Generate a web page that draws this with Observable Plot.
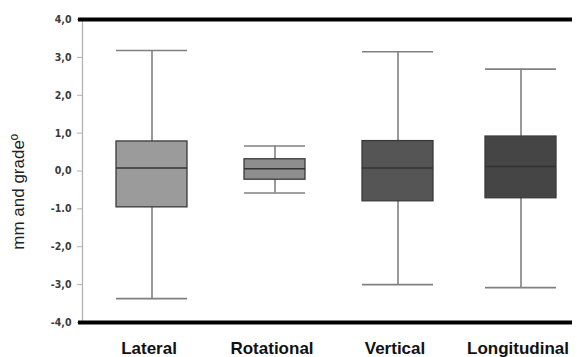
<!DOCTYPE html>
<html>
<head>
<meta charset="utf-8">
<script src="https://cdn.jsdelivr.net/npm/d3@7"></script>
<script src="https://cdn.jsdelivr.net/npm/@observablehq/plot@0.6"></script>
<style>
  html, body { margin: 0; padding: 0; background: #fff; }
  #chart svg { display: block; }
</style>
</head>
<body>
<div id="chart"></div>
<script>
const categories = ["Lateral", "Rotational", "Vertical", "Longitudinal"];
const whiskerLow  = [-3.37, -0.58, -3.00, -3.08];
const q1          = [-0.96, -0.23, -0.80, -0.72];
const median      = [0.08, 0.06, 0.08, 0.12];
const q3          = [0.78, 0.31, 0.79, 0.91];
const whiskerHigh = [3.18, 0.66, 3.15, 2.69];
const yTicks      = [-4, -3, -2, -1, 0, 1, 2, 3, 4];
const yTickLabels = ["-4,0", "-3,0", "-2,0", "-1.0", "0,0", "1,0", "2,0", "3,0", "4,0"];
const yLabel = "mm and gradeº";

const data = categories.map((c, i) => ({
  cat: c, lo: whiskerLow[i], q1: q1[i], med: median[i], q3: q3[i], hi: whiskerHigh[i]
}));
const wide = data.filter(d => d.cat !== "Rotational");
const narrow = data.filter(d => d.cat === "Rotational");

const boxFill = d3.scaleOrdinal(categories, ["#9b9b9b", "#8e8e8e", "#555555", "#454545"]);

const chart = Plot.plot({
  width: 577,
  height: 357,
  marginTop: 19,
  marginBottom: 35,
  marginLeft: 82,
  marginRight: 5,
  style: { fontFamily: "Liberation Sans, Arial, sans-serif", background: "#fff" },
  x: { domain: categories, range: [88.4, 583.2], padding: 0 },
  y: { domain: [-4, 4], ticks: yTicks },
  marks: [
    Plot.frame({ anchor: "left", stroke: "#b0b0b0", strokeWidth: 1.2 }),
    Plot.axisY(yTicks, {
      tickFormat: (d) => yTickLabels[yTicks.indexOf(d)],
      tickSize: 5, tickPadding: 6, stroke: "#b0b0b0",
      fontSize: 10.5, fontWeight: "bold", fill: "#3a3a3a", label: null,
      fontFamily: "DejaVu Sans Condensed, DejaVu Sans, sans-serif"
    }),
    Plot.axisX({
      tickSize: 0, tickPadding: 19.5, fontSize: 17, fontWeight: "bold", fill: "#111", label: null, dx: -3
    }),
    Plot.text([{ t: yLabel, v: -0.55 }], { text: "t", y: "v", frameAnchor: "left", textAnchor: "middle", rotate: -90, dx: -64, fontSize: 17, fill: "#222" }),
    // whiskers
    Plot.ruleX(data, { x: "cat", y1: "lo", y2: "hi", stroke: "#808080", strokeWidth: 1.6 }),
    Plot.tickY(wide, { x: "cat", y: "lo", stroke: "#808080", strokeWidth: 1.6, insetLeft: 26, insetRight: 26 }),
    Plot.tickY(wide, { x: "cat", y: "hi", stroke: "#808080", strokeWidth: 1.6, insetLeft: 26, insetRight: 26 }),
    Plot.tickY(narrow, { x: "cat", y: "lo", stroke: "#808080", strokeWidth: 1.6, insetLeft: 31, insetRight: 31 }),
    Plot.tickY(narrow, { x: "cat", y: "hi", stroke: "#808080", strokeWidth: 1.6, insetLeft: 31, insetRight: 31 }),
    // boxes
    Plot.barY(wide, { x: "cat", y1: "q1", y2: "q3", fill: d => boxFill(d.cat), stroke: "#3a3a3a", strokeWidth: 1.3, insetLeft: 26, insetRight: 26 }),
    Plot.barY(narrow, { x: "cat", y1: "q1", y2: "q3", fill: d => boxFill(d.cat), stroke: "#3a3a3a", strokeWidth: 1.3, insetLeft: 31, insetRight: 31 }),
    Plot.tickY(wide, { x: "cat", y: "med", stroke: "#333", strokeWidth: 1.5, insetLeft: 26, insetRight: 26 }),
    Plot.tickY(narrow, { x: "cat", y: "med", stroke: "#333", strokeWidth: 1.5, insetLeft: 31, insetRight: 31 }),
    // thick frame lines
    Plot.ruleY([4, -4], { stroke: "#000", strokeWidth: 4, insetLeft: -4 })
  ]
});
document.getElementById("chart").appendChild(chart);
</script>
</body>
</html>
